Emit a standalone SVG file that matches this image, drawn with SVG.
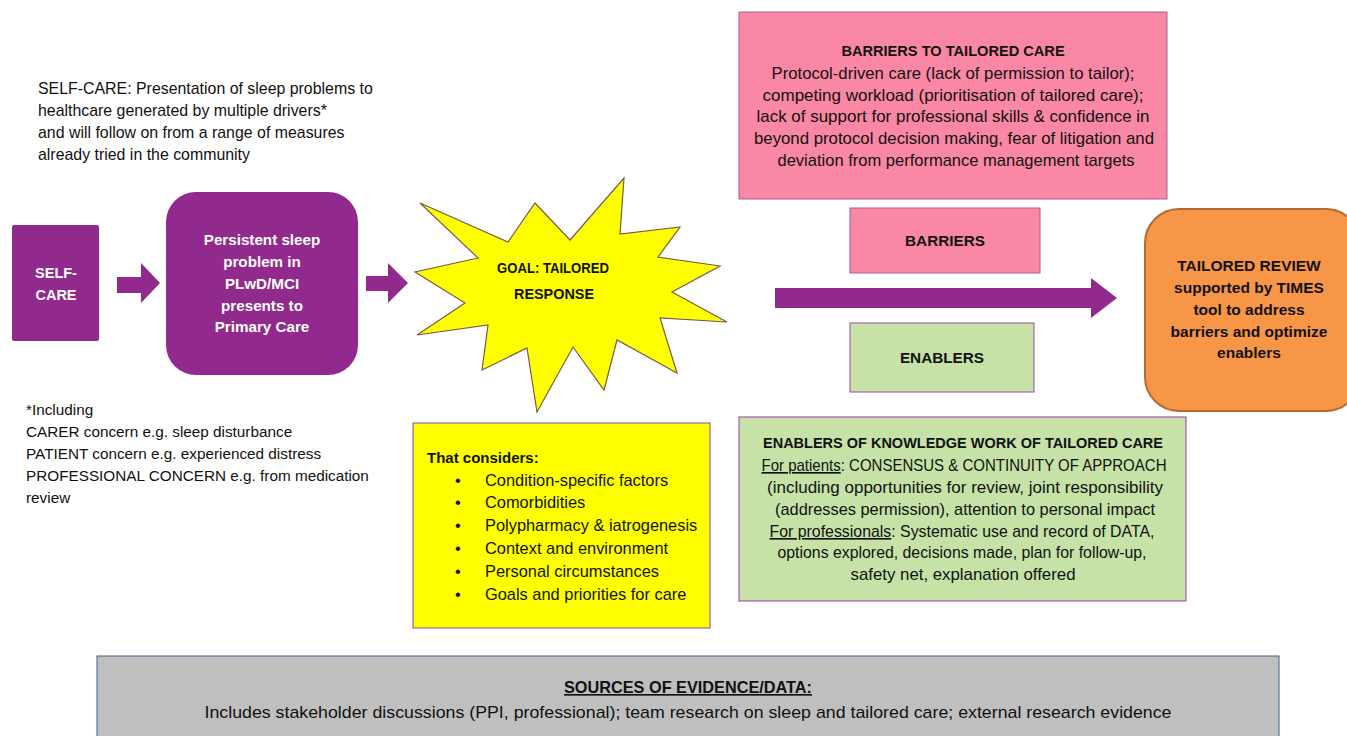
<svg xmlns="http://www.w3.org/2000/svg" width="1347" height="736" viewBox="0 0 1347 736">
<style>
text{font-family:"Liberation Sans",Arial,sans-serif;fill:#111}
.t{font-size:15.5px}
.b{font-weight:bold}
.w{fill:#fff;font-weight:bold;font-size:15.2px}
.c{text-anchor:middle}
.u{text-decoration:underline}
.purple{fill:#922A8D}
</style>
<rect width="1347" height="736" fill="#fff"/>

<g id="intro-text" style="font-size:15.9px">
<text x="38" y="94">SELF-CARE: Presentation of sleep problems to</text>
<text x="38" y="116">healthcare generated by multiple drivers*</text>
<text x="38" y="138">and will follow on from a range of measures</text>
<text x="38" y="160">already tried in the community</text>
</g>

<g id="including-text" style="font-size:15.3px">
<text x="26" y="415">*Including</text>
<text x="26" y="437">CARER concern e.g. sleep disturbance</text>
<text x="26" y="459">PATIENT concern e.g. experienced distress</text>
<text x="26" y="481">PROFESSIONAL CONCERN e.g. from medication</text>
<text x="26" y="503">review</text>
</g>

<g id="self-care">
<rect x="12" y="225" width="87" height="116" rx="2" class="purple"/>
<text class="c" x="56" y="278" style="fill:#fff;font-weight:bold;font-size:14.5px">SELF-</text>
<text class="c" x="56" y="300" style="fill:#fff;font-weight:bold;font-size:14.5px">CARE</text>
</g>

<g id="persistent">
<rect x="166" y="192" width="192" height="183" rx="30" class="purple"/>
<text class="w c" x="262" y="245">Persistent sleep</text>
<text class="w c" x="262" y="267">problem in</text>
<text class="w c" x="262" y="289">PLwD/MCI</text>
<text class="w c" x="262" y="311">presents to</text>
<text class="w c" x="262" y="332">Primary Care</text>
</g>

<g id="goal">
<polygon points="420,203 508,242 535,203 570,240 624,178 620,234 680,227 658,257 720,266 672,292 727,322 660,318 677,373 617,340 604,390 573,347 537,412 527,348 482,370 488,325 417,335 465,303 415,272 478,258" fill="#FFFF00" stroke="#7A5A4A" stroke-width="1.2"/>
<text class="b c" x="553" y="273" style="font-size:15px" textLength="112" lengthAdjust="spacingAndGlyphs">GOAL: TAILORED</text>
<text class="b c" x="554" y="299" style="font-size:15px" textLength="80" lengthAdjust="spacingAndGlyphs">RESPONSE</text>
</g>

<g id="considers">
<rect x="413" y="423" width="297" height="205" fill="#FFFF00" stroke="#7F4FA0" stroke-width="1"/>
<text class="b" x="427" y="463" style="font-size:15px">That considers:</text>
<g style="font-size:16.4px">
<text x="455" y="486">•</text><text x="485" y="486">Condition-specific factors</text>
<text x="455" y="508">•</text><text x="485" y="508">Comorbidities</text>
<text x="455" y="531">•</text><text x="485" y="531">Polypharmacy &amp; iatrogenesis</text>
<text x="455" y="554">•</text><text x="485" y="554">Context and environment</text>
<text x="455" y="577">•</text><text x="485" y="577">Personal circumstances</text>
<text x="455" y="600">•</text><text x="485" y="600">Goals and priorities for care</text>
</g>
</g>

<g id="barriers-detail">
<rect x="739" y="12" width="428" height="187" fill="#FA88A4" stroke="#B05A9C" stroke-width="1"/>
<text class="b c" x="953" y="56" style="font-size:14.6px">BARRIERS TO TAILORED CARE</text>
<g style="font-size:16.4px" text-anchor="middle">
<text x="953" y="79" textLength="363" lengthAdjust="spacingAndGlyphs">Protocol-driven care (lack of permission to tailor);</text>
<text x="953" y="101" textLength="381" lengthAdjust="spacingAndGlyphs">competing workload (prioritisation of tailored care);</text>
<text x="953" y="122" textLength="393" lengthAdjust="spacingAndGlyphs">lack of support for professional skills &amp; confidence in</text>
<text x="954" y="144" textLength="400" lengthAdjust="spacingAndGlyphs">beyond protocol decision making, fear of litigation and</text>
<text x="956" y="166" textLength="357" lengthAdjust="spacingAndGlyphs">deviation from performance management targets</text>
</g>
</g>

<g id="barriers">
<rect x="850" y="208" width="190" height="65" fill="#FA88A4" stroke="#B05A9C" stroke-width="1"/>
<text class="b c" x="945" y="246" style="font-size:15.3px">BARRIERS</text>
</g>

<g id="enablers">
<rect x="850" y="323" width="184" height="69" fill="#C6E2A6" stroke="#A04BA0" stroke-width="1"/>
<text class="b c" x="942" y="363" style="font-size:15.3px">ENABLERS</text>
</g>

<g id="enablers-detail">
<rect x="739" y="417" width="447" height="184" fill="#C6E2A6" stroke="#9F3BA0" stroke-width="1"/>
<text class="b c" x="963" y="448" style="font-size:14.6px" textLength="400" lengthAdjust="spacingAndGlyphs">ENABLERS OF KNOWLEDGE WORK OF TAILORED CARE</text>
<g style="font-size:16.2px" text-anchor="middle">
<text x="964" y="471" textLength="405" lengthAdjust="spacingAndGlyphs"><tspan class="u">For patients</tspan>: CONSENSUS &amp; CONTINUITY OF APPROACH</text>
<text x="965" y="493" textLength="396" lengthAdjust="spacingAndGlyphs">(including opportunities for review, joint responsibility</text>
<text x="965" y="515" textLength="380" lengthAdjust="spacingAndGlyphs">(addresses permission), attention to personal impact</text>
<text x="962" y="537" textLength="385" lengthAdjust="spacingAndGlyphs"><tspan class="u">For professionals</tspan>: Systematic use and record of DATA,</text>
<text x="962" y="558" textLength="369" lengthAdjust="spacingAndGlyphs">options explored, decisions made, plan for follow-up,</text>
<text x="963" y="580" textLength="225" lengthAdjust="spacingAndGlyphs">safety net, explanation offered</text>
</g>
</g>

<g id="tailored-review">
<rect x="1145" y="209" width="215" height="202" rx="34" fill="#F79646" stroke="#B3692F" stroke-width="2"/>
<g class="b" text-anchor="middle" style="font-size:15.5px">
<text x="1249" y="271">TAILORED REVIEW</text>
<text x="1249" y="293">supported by TIMES</text>
<text x="1249" y="315">tool to address</text>
<text x="1249" y="337">barriers and optimize</text>
<text x="1249" y="358">enablers</text>
</g>
</g>

<g id="sources">
<rect x="97" y="656" width="1182" height="90" fill="#BFBFBF" stroke="#3E5F8A" stroke-width="1"/>
<text class="b c u" x="688" y="693" style="font-size:16.5px" textLength="248" lengthAdjust="spacingAndGlyphs">SOURCES OF EVIDENCE/DATA:</text>
<text class="c" x="688" y="718" style="font-size:17px" textLength="967" lengthAdjust="spacingAndGlyphs">Includes stakeholder discussions (PPI, professional); team research on sleep and tailored care; external research evidence</text>
</g>

<g id="connectors">
<polygon points="117,277 141,277 141,263 160,283 141,303 141,293 117,293" class="purple"/>
<polygon points="366,276 388,276 388,263 408,283 388,303 388,291 366,291" class="purple"/>
<polygon points="775,288 1091,288 1091,278 1117,298 1091,318 1091,308 775,308" class="purple"/>
</g>
</svg>
